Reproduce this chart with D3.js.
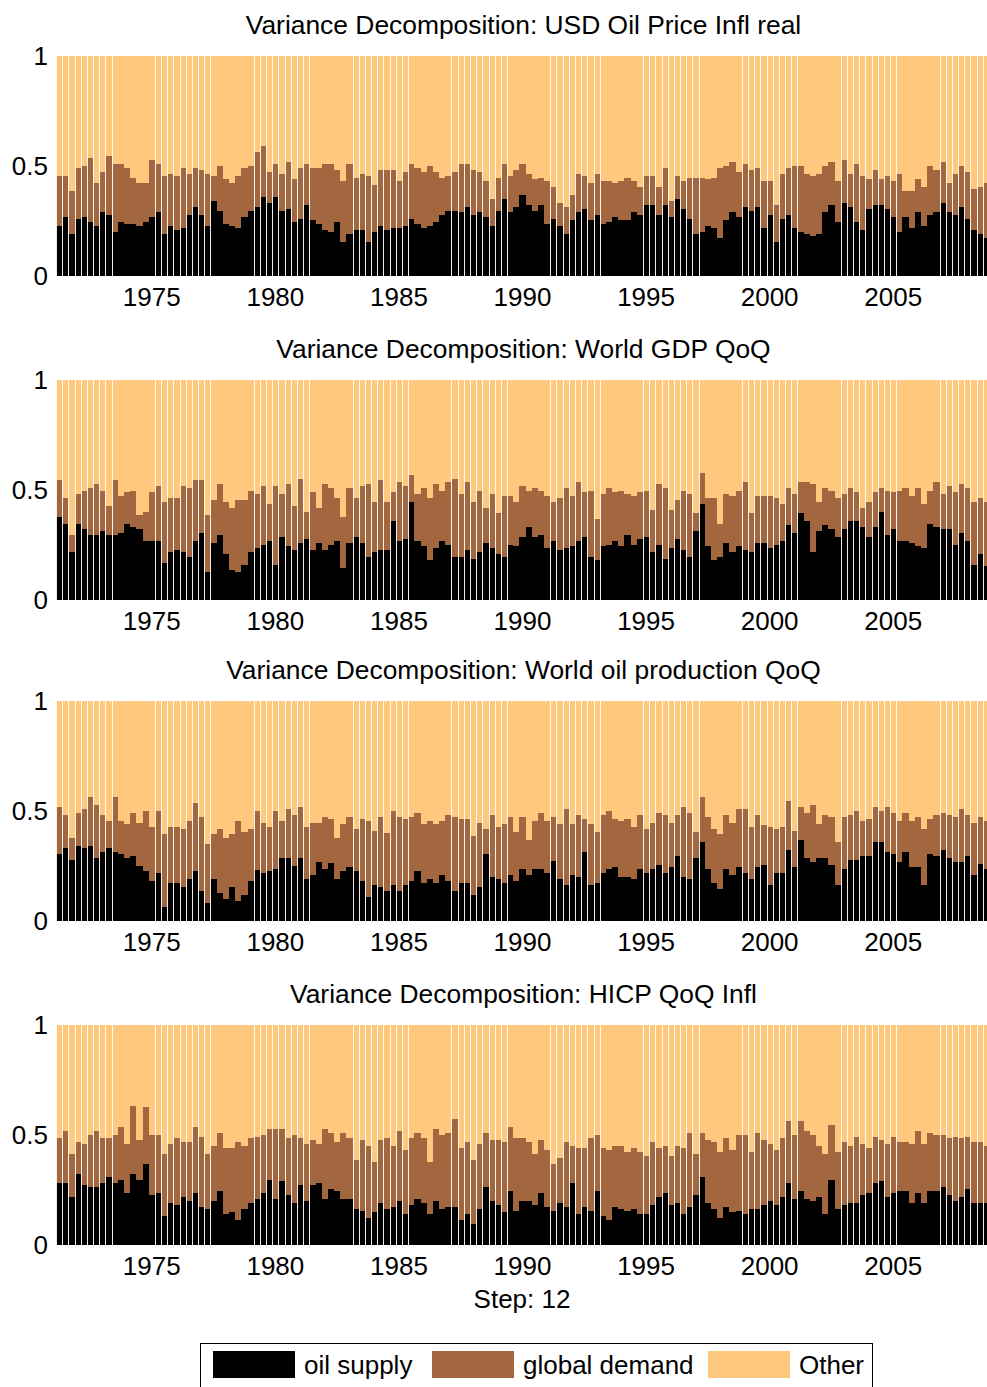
<!DOCTYPE html>
<html><head><meta charset="utf-8">
<script src="https://cdn.jsdelivr.net/npm/d3@7"></script>
<style>
body{margin:0;background:#fff}
svg{display:block}
text{font-family:"Liberation Sans",Arial,sans-serif;fill:#000}
</style>
</head><body>
<svg id="chart" width="987" height="1387"></svg>
<script>
// ---- categories ----
const firstQuarter = 1971.25;   // 1971Q2
const nQuarters = 151;          // through 2008Q4
const quarters = d3.range(nQuarters).map(i => firstQuarter + i * 0.25);
const xTickYears = [1975, 1980, 1985, 1990, 1995, 2000, 2005];
const yTicks = [0, 0.5, 1];
const yTickLabels = ["0", "0.5", "1"];
const seriesNames = ["oil supply", "global demand", "Other"];
const panelTitles = [
  "Variance Decomposition: USD Oil Price Infl real",
  "Variance Decomposition: World GDP QoQ",
  "Variance Decomposition: World oil production QoQ",
  "Variance Decomposition: HICP QoQ Infl"
];
const stepLabel = "Step: 12";

// ---- series values (share of forecast error variance) ----
const oilPriceSupply = [
0.227,0.270,0.191,0.261,0.270,0.245,0.227,0.289,0.279,0.200,
0.245,0.235,0.235,0.227,0.245,0.270,0.289,0.191,0.227,0.209,
0.218,0.279,0.315,0.279,0.227,0.341,0.297,0.235,0.227,0.218,
0.270,0.297,0.315,0.359,0.333,0.359,0.297,0.306,0.245,0.261,
0.324,0.255,0.235,0.209,0.200,0.245,0.155,0.191,0.209,0.209,
0.155,0.200,0.227,0.209,0.218,0.218,0.227,0.261,0.235,0.218,
0.227,0.245,0.279,0.297,0.297,0.289,0.315,0.279,0.289,0.270,
0.227,0.297,0.350,0.289,0.315,0.368,0.324,0.297,0.324,0.235,
0.261,0.227,0.191,0.255,0.289,0.306,0.255,0.279,0.235,0.245,
0.270,0.255,0.255,0.289,0.279,0.324,0.324,0.279,0.324,0.270,
0.350,0.306,0.261,0.191,0.200,0.227,0.218,0.173,0.255,0.289,
0.270,0.315,0.297,0.315,0.218,0.279,0.155,0.261,0.279,0.218,
0.200,0.191,0.182,0.191,0.289,0.324,0.245,0.332,0.315,0.245,
0.209,0.306,0.324,0.324,0.306,0.270,0.200,0.270,0.218,0.289,
0.227,0.279,0.289,0.332,0.289,0.279,0.315,0.261,0.209,0.191,
0.173];
const oilPriceDemand = [
0.229,0.186,0.195,0.230,0.230,0.291,0.194,0.185,0.266,0.309,
0.264,0.256,0.212,0.194,0.176,0.257,0.220,0.265,0.238,0.247,
0.273,0.186,0.176,0.203,0.238,0.115,0.203,0.204,0.194,0.238,
0.221,0.203,0.249,0.232,0.141,0.150,0.168,0.212,0.194,0.230,
0.185,0.236,0.256,0.300,0.309,0.237,0.275,0.318,0.238,0.256,
0.301,0.212,0.255,0.273,0.264,0.212,0.247,0.248,0.256,0.256,
0.273,0.229,0.168,0.159,0.177,0.220,0.194,0.203,0.185,0.160,
0.123,0.150,0.159,0.167,0.167,0.141,0.141,0.142,0.123,0.195,
0.142,0.105,0.124,0.113,0.176,0.150,0.166,0.186,0.195,0.185,
0.151,0.175,0.192,0.141,0.124,0.132,0.132,0.124,0.167,0.071,
0.106,0.124,0.186,0.256,0.247,0.212,0.229,0.318,0.245,0.229,
0.204,0.194,0.185,0.176,0.212,0.151,0.169,0.204,0.212,0.282,
0.300,0.274,0.274,0.274,0.211,0.194,0.185,0.195,0.150,0.264,
0.247,0.133,0.158,0.115,0.150,0.160,0.265,0.116,0.168,0.150,
0.176,0.221,0.193,0.186,0.132,0.186,0.185,0.213,0.185,0.212,
0.248];

const gdpSupply = [
0.373,0.345,0.214,0.345,0.320,0.292,0.292,0.311,0.292,0.292,
0.303,0.345,0.329,0.320,0.268,0.268,0.268,0.168,0.214,0.223,
0.214,0.195,0.268,0.303,0.127,0.259,0.292,0.205,0.136,0.127,
0.159,0.214,0.232,0.248,0.268,0.159,0.286,0.241,0.223,0.259,
0.277,0.223,0.259,0.223,0.248,0.268,0.142,0.259,0.286,0.259,
0.195,0.214,0.223,0.223,0.356,0.268,0.277,0.444,0.268,0.241,
0.180,0.232,0.268,0.248,0.195,0.195,0.223,0.186,0.214,0.259,
0.232,0.205,0.195,0.250,0.241,0.286,0.329,0.286,0.295,0.232,
0.268,0.223,0.232,0.241,0.268,0.286,0.195,0.180,0.241,0.250,
0.268,0.241,0.295,0.250,0.277,0.286,0.214,0.250,0.186,0.232,
0.277,0.223,0.195,0.311,0.435,0.241,0.180,0.195,0.259,0.214,
0.241,0.223,0.214,0.259,0.259,0.232,0.250,0.268,0.338,0.303,
0.391,0.355,0.214,0.311,0.338,0.320,0.286,0.320,0.355,0.355,
0.329,0.286,0.329,0.400,0.295,0.320,0.268,0.268,0.259,0.241,
0.232,0.345,0.329,0.320,0.320,0.250,0.303,0.268,0.159,0.205,
0.152];
const gdpDemand = [
0.168,0.116,0.078,0.134,0.175,0.213,0.231,0.184,0.134,0.249,
0.167,0.143,0.166,0.062,0.132,0.220,0.246,0.276,0.247,0.238,
0.300,0.310,0.273,0.238,0.255,0.194,0.231,0.239,0.281,0.326,
0.294,0.281,0.247,0.266,0.167,0.355,0.193,0.282,0.203,0.291,
0.123,0.265,0.158,0.300,0.257,0.193,0.231,0.246,0.175,0.255,
0.328,0.230,0.318,0.221,0.132,0.264,0.237,0.124,0.211,0.264,
0.281,0.291,0.227,0.284,0.355,0.284,0.309,0.258,0.281,0.158,
0.247,0.186,0.275,0.220,0.203,0.228,0.166,0.219,0.200,0.238,
0.176,0.238,0.273,0.229,0.264,0.202,0.300,0.184,0.238,0.255,
0.220,0.254,0.184,0.220,0.211,0.209,0.194,0.273,0.319,0.176,
0.176,0.272,0.284,0.080,0.142,0.220,0.281,0.150,0.220,0.256,
0.254,0.309,0.177,0.211,0.211,0.238,0.211,0.167,0.167,0.176,
0.141,0.177,0.309,0.133,0.167,0.175,0.175,0.159,0.150,0.133,
0.088,0.158,0.159,0.105,0.200,0.168,0.227,0.237,0.211,0.264,
0.203,0.150,0.203,0.159,0.194,0.238,0.220,0.237,0.285,0.256,
0.292];

const oilProdSupply = [
0.305,0.332,0.277,0.341,0.332,0.341,0.286,0.314,0.332,0.314,
0.305,0.286,0.295,0.250,0.226,0.180,0.217,0.065,0.171,0.171,
0.153,0.189,0.226,0.136,0.082,0.189,0.126,0.102,0.153,0.091,
0.117,0.180,0.232,0.217,0.226,0.235,0.286,0.286,0.250,0.286,
0.189,0.208,0.268,0.235,0.262,0.189,0.226,0.244,0.226,0.180,
0.109,0.162,0.153,0.136,0.162,0.136,0.162,0.180,0.226,0.171,
0.189,0.171,0.208,0.180,0.136,0.171,0.171,0.118,0.153,0.305,
0.198,0.189,0.171,0.208,0.180,0.235,0.208,0.235,0.235,0.217,
0.271,0.189,0.162,0.208,0.198,0.314,0.162,0.171,0.217,0.235,
0.244,0.198,0.198,0.189,0.235,0.217,0.235,0.253,0.217,0.244,
0.295,0.198,0.189,0.286,0.359,0.235,0.171,0.145,0.235,0.208,
0.244,0.217,0.189,0.244,0.253,0.162,0.217,0.217,0.323,0.244,
0.367,0.286,0.268,0.286,0.286,0.253,0.162,0.235,0.277,0.277,
0.295,0.295,0.359,0.359,0.314,0.305,0.268,0.314,0.244,0.244,
0.162,0.305,0.295,0.323,0.286,0.268,0.268,0.295,0.208,0.259,
0.235];
const oilProdDemand = [
0.213,0.150,0.099,0.150,0.177,0.223,0.241,0.168,0.123,0.250,
0.150,0.153,0.196,0.195,0.272,0.247,0.281,0.329,0.256,0.256,
0.265,0.266,0.310,0.337,0.268,0.205,0.292,0.274,0.241,0.364,
0.286,0.238,0.266,0.228,0.201,0.263,0.169,0.223,0.232,0.232,
0.238,0.237,0.177,0.238,0.202,0.187,0.213,0.229,0.192,0.284,
0.346,0.247,0.320,0.264,0.336,0.337,0.302,0.293,0.265,0.268,
0.266,0.268,0.247,0.302,0.337,0.293,0.293,0.267,0.292,0.113,
0.284,0.238,0.268,0.265,0.223,0.238,0.159,0.220,0.256,0.238,
0.202,0.250,0.347,0.231,0.284,0.150,0.277,0.232,0.265,0.263,
0.220,0.257,0.266,0.238,0.247,0.201,0.210,0.238,0.265,0.201,
0.187,0.320,0.302,0.117,0.205,0.238,0.247,0.249,0.247,0.237,
0.265,0.292,0.238,0.238,0.183,0.265,0.201,0.210,0.222,0.165,
0.151,0.205,0.259,0.153,0.196,0.220,0.197,0.238,0.205,0.221,
0.160,0.169,0.159,0.139,0.204,0.186,0.187,0.177,0.211,0.229,
0.256,0.159,0.187,0.168,0.196,0.205,0.241,0.187,0.237,0.214,
0.220];

const hicpSupply = [
0.280,0.280,0.218,0.324,0.273,0.264,0.264,0.280,0.308,0.280,
0.297,0.236,0.324,0.297,0.368,0.227,0.236,0.130,0.192,0.183,
0.218,0.202,0.236,0.174,0.165,0.202,0.245,0.139,0.148,0.114,
0.165,0.192,0.211,0.236,0.297,0.211,0.289,0.227,0.192,0.273,
0.202,0.273,0.280,0.211,0.255,0.245,0.211,0.211,0.165,0.156,
0.121,0.148,0.192,0.165,0.174,0.202,0.139,0.183,0.211,0.192,
0.139,0.202,0.165,0.174,0.174,0.114,0.139,0.095,0.165,0.264,
0.202,0.183,0.148,0.245,0.156,0.202,0.202,0.183,0.236,0.174,
0.156,0.192,0.174,0.280,0.139,0.174,0.156,0.245,0.130,0.114,
0.174,0.165,0.156,0.165,0.139,0.139,0.183,0.218,0.236,0.183,
0.192,0.139,0.174,0.227,0.308,0.192,0.165,0.121,0.174,0.148,
0.156,0.139,0.165,0.165,0.183,0.202,0.183,0.218,0.280,0.209,
0.245,0.209,0.202,0.218,0.139,0.297,0.165,0.183,0.192,0.192,
0.227,0.236,0.280,0.289,0.218,0.236,0.245,0.245,0.192,0.236,
0.192,0.245,0.245,0.264,0.227,0.202,0.218,0.255,0.192,0.192,
0.192];
const hicpDemand = [
0.206,0.240,0.196,0.143,0.185,0.238,0.256,0.206,0.177,0.222,
0.239,0.222,0.309,0.179,0.258,0.275,0.266,0.284,0.266,0.302,
0.249,0.265,0.300,0.318,0.249,0.246,0.266,0.302,0.293,0.353,
0.283,0.293,0.281,0.266,0.230,0.316,0.238,0.258,0.310,0.212,
0.256,0.203,0.178,0.316,0.256,0.222,0.300,0.274,0.223,0.320,
0.327,0.231,0.284,0.320,0.274,0.318,0.293,0.302,0.300,0.293,
0.240,0.325,0.337,0.337,0.399,0.327,0.328,0.293,0.293,0.247,
0.274,0.293,0.319,0.291,0.329,0.283,0.265,0.231,0.240,0.258,
0.212,0.205,0.293,0.168,0.302,0.267,0.329,0.257,0.311,0.318,
0.274,0.283,0.267,0.276,0.284,0.266,0.284,0.223,0.212,0.222,
0.256,0.302,0.337,0.187,0.203,0.284,0.302,0.302,0.311,0.284,
0.346,0.363,0.258,0.346,0.293,0.256,0.249,0.267,0.284,0.293,
0.319,0.311,0.300,0.230,0.275,0.248,0.258,0.284,0.256,0.300,
0.231,0.205,0.212,0.187,0.240,0.256,0.222,0.222,0.266,0.284,
0.266,0.266,0.257,0.238,0.258,0.290,0.267,0.237,0.275,0.275,
0.256];

const panelSupply = [oilPriceSupply, gdpSupply, oilProdSupply, hicpSupply];
const panelDemand = [oilPriceDemand, gdpDemand, oilProdDemand, hicpDemand];

// ---- styling / layout ----
const colors = ["#000000", "#A3673F", "#FFC87F"];
const FONT = 26;
const TITLE_FONT = 26.4;
const plotLeft = 56, plotRight = 989;
const panelTops = [56, 379.5, 701, 1025];
const plotH = 220;

const svg = d3.select("#chart");
const x = d3.scaleLinear()
  .domain([firstQuarter - 0.125, firstQuarter + (nQuarters - 1) * 0.25 + 0.125])
  .range([plotLeft, plotRight]);

panelTitles.forEach((title, p) => {
  const top = panelTops[p];
  const y = d3.scaleLinear().domain([0, 1]).range([top + plotH, top]);
  const g = svg.append("g");
  const rows = quarters.map((q, i) => ({ q, supply: panelSupply[p][i], demand: panelDemand[p][i] }));
  const stacked = d3.stack().keys(["supply", "demand"])(rows);
  const bx0 = q => Math.round(x(q - 0.125));
  const bx1 = q => Math.round(x(q + 0.125));

  // "Other" fills each bar to the top of the unit share
  g.append("g").selectAll("rect").data(rows).join("rect")
    .attr("x", d => bx0(d.q)).attr("width", d => bx1(d.q) - bx0(d.q))
    .attr("y", y(1)).attr("height", y(0) - y(1))
    .attr("fill", colors[2]).attr("shape-rendering", "crispEdges");

  stacked.forEach((layer, li) => {
    g.append("g").selectAll("rect").data(layer).join("rect")
      .attr("x", d => bx0(d.data.q)).attr("width", d => bx1(d.data.q) - bx0(d.data.q))
      .attr("y", d => y(d[1])).attr("height", d => y(d[0]) - y(d[1]))
      .attr("fill", colors[li]).attr("shape-rendering", "crispEdges");
  });

  // thin light separators seen between many bars in the original rendering
  const seps = d3.range(nQuarters).filter(k => {
    const ph = (k + 0.2) / 15.85;
    return ph - Math.floor(ph) < 0.62;
  });
  g.append("g").selectAll("rect").data(seps).join("rect")
    .attr("x", k => Math.round(x(firstQuarter - 0.125 + k * 0.25)))
    .attr("width", 1)
    .attr("y", y(1)).attr("height", y(0) - y(1))
    .attr("fill", "#ffffff").attr("opacity", 0.92)
    .attr("shape-rendering", "crispEdges");

  // title
  svg.append("text").attr("x", (plotLeft + plotRight) / 2 + 1).attr("y", top - 31)
    .attr("text-anchor", "middle").attr("dominant-baseline", "central")
    .style("font-size", TITLE_FONT + "px").text(title);

  // y tick labels
  yTicks.forEach((t, i) => {
    svg.append("text").attr("x", 48).attr("y", y(t))
      .attr("text-anchor", "end").attr("dominant-baseline", "central")
      .style("font-size", FONT + "px").text(yTickLabels[i]);
  });

  // x tick labels
  xTickYears.forEach(yr => {
    svg.append("text").attr("x", x(yr)).attr("y", top + plotH + 21)
      .attr("text-anchor", "middle").attr("dominant-baseline", "central")
      .style("font-size", FONT + "px").text(yr);
  });
});

// step label
svg.append("text").attr("x", 522).attr("y", 1299)
  .attr("text-anchor", "middle").attr("dominant-baseline", "central")
  .style("font-size", FONT + "px").text(stepLabel);

// legend
const legend = svg.append("g");
legend.append("rect").attr("x", 200.5).attr("y", 1343.5).attr("width", 672).attr("height", 60)
  .attr("fill", "#fff").attr("stroke", "#000").attr("stroke-width", 1);
const legendSwatchX = [213, 432, 708];
seriesNames.forEach((name, i) => {
  legend.append("rect").attr("x", legendSwatchX[i]).attr("y", 1351)
    .attr("width", 82).attr("height", 27).attr("fill", colors[i]);
  legend.append("text").attr("x", legendSwatchX[i] + 91).attr("y", 1365)
    .attr("dominant-baseline", "central").style("font-size", FONT + "px").text(name);
});
</script>
</body></html>
